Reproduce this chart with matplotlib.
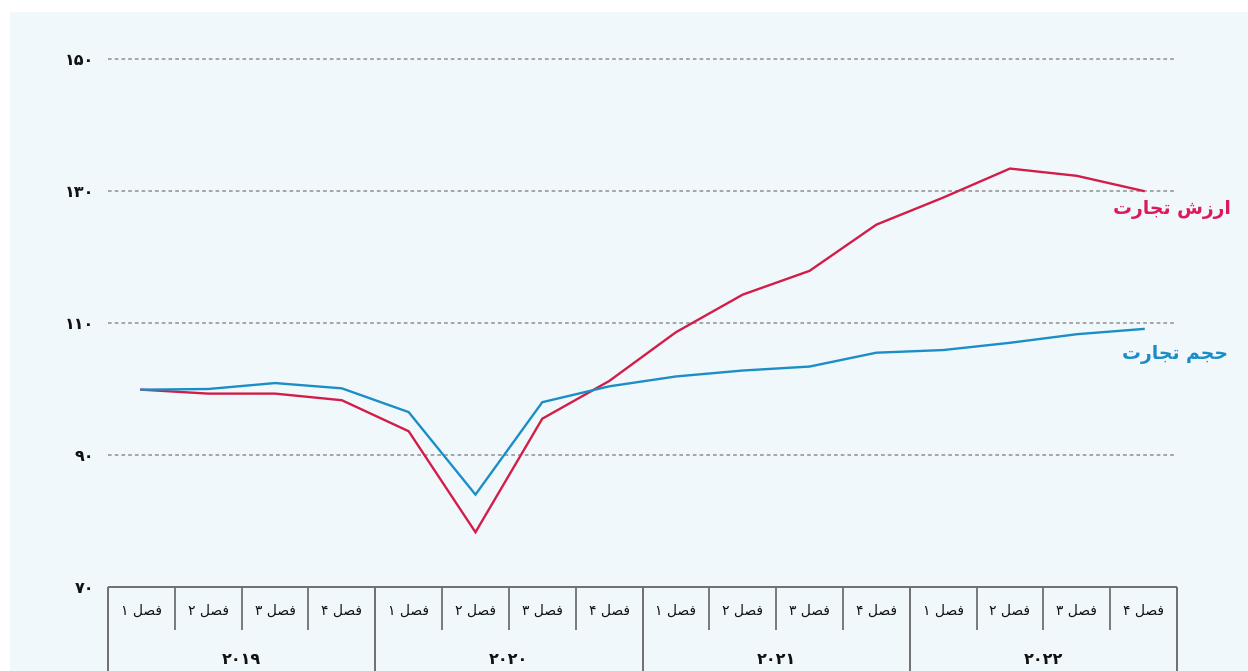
import matplotlib
matplotlib.use("Agg")
import matplotlib.pyplot as plt
from matplotlib.patches import Rectangle

# ---------------- data ----------------
years = ["2019", "2020", "2021", "2022"]
quarters = ["فصل 1", "فصل 2", "فصل 3", "فصل 4"]
trade_value = [99.9, 99.3, 99.3, 98.3, 93.6, 78.3, 95.5, 101.2,
               108.6, 114.3, 117.9, 124.9, 129.0, 133.4, 132.3, 130.0]
trade_volume = [99.9, 100.0, 100.9, 100.1, 96.5, 84.0, 98.0, 100.4,
                101.9, 102.8, 103.4, 105.5, 105.9, 107.0, 108.3, 109.1]
y_ticks = [70, 90, 110, 130, 150]
label_value = "ارزش تجارت"
label_volume = "حجم تجارت"

# ---------------- minimal Persian shaping (presentation forms) ----------------
FORMS = {
    'ا': ('\uFE8D', '\uFE8E', None, None),
    'ر': ('\uFEAD', '\uFEAE', None, None),
    'ز': ('\uFEAF', '\uFEB0', None, None),
    'ش': ('\uFEB5', '\uFEB6', '\uFEB7', '\uFEB8'),
    'ت': ('\uFE95', '\uFE96', '\uFE97', '\uFE98'),
    'ج': ('\uFE9D', '\uFE9E', '\uFE9F', '\uFEA0'),
    'ح': ('\uFEA1', '\uFEA2', '\uFEA3', '\uFEA4'),
    'م': ('\uFEE1', '\uFEE2', '\uFEE3', '\uFEE4'),
    'ف': ('\uFED1', '\uFED2', '\uFED3', '\uFED4'),
    'ص': ('\uFEB9', '\uFEBA', '\uFEBB', '\uFEBC'),
    'ل': ('\uFEDD', '\uFEDE', '\uFEDF', '\uFEE0'),
}
FA_DIGITS = str.maketrans("0123456789", "۰۱۲۳۴۵۶۷۸۹")


def shape_word(w):
    out = []
    for i, c in enumerate(w):
        if c not in FORMS:
            out.append(c)
            continue
        prev = w[i - 1] if i > 0 else None
        nxt = w[i + 1] if i + 1 < len(w) else None
        jp = prev in FORMS and FORMS[prev][2] is not None
        jn = FORMS[c][2] is not None and nxt in FORMS
        iso, fin, ini, med = FORMS[c]
        out.append(med if (jp and jn) else fin if jp else ini if jn else iso)
    return ''.join(out)


def rtl(s):
    s = s.translate(FA_DIGITS)
    res = []
    for t in reversed(s.split(' ')):
        if any(c in FORMS for c in t):
            res.append(shape_word(t)[::-1])
        else:
            res.append(t)
    return ' '.join(res)


# ---------------- figure ----------------
W, H = 1248, 671
fig = plt.figure(figsize=(W / 100, H / 100), dpi=100, facecolor="white")
plt.rcParams['font.family'] = ['DejaVu Sans']

bg = "#f1f8fc"
bgrect = Rectangle((10 / W, 0), 1 - 10 / W, (H - 12) / H,
                   transform=fig.transFigure, facecolor=bg,
                   edgecolor="none", zorder=-10)
fig.add_artist(bgrect)

ax = fig.add_axes([108 / W, (H - 587) / H, (1177 - 108) / W, (587 - 59) / H])
ax.set_zorder(1)
ax.set_facecolor("none")
for s in ax.spines.values():
    s.set_visible(False)

n = len(trade_value)
x = list(range(n))
ax.set_xlim(-0.5, n - 0.5)
ax.set_ylim(70, 150)

# grid lines
for v in y_ticks[1:]:
    ax.plot([-0.5, n - 0.55], [v, v], color="#8f8f8f", lw=1.1,
            linestyle=(0, (2.4, 2.0)), zorder=1, clip_on=False)

ax.plot(x, trade_value, color="#d21d48", lw=1.7, zorder=3, clip_on=False,
        solid_joinstyle="miter")
ax.plot(x, trade_volume, color="#1b8ec6", lw=1.7, zorder=3, clip_on=False,
        solid_joinstyle="miter")

ax.set_xticks([])
ax.set_yticks(y_ticks)
ax.set_yticklabels([str(v).translate(FA_DIGITS) for v in y_ticks],
                   fontsize=11.5, fontweight="bold", color="#111111")
ax.tick_params(axis="y", length=0, pad=10)

# series labels
ax.text(16.3, 127.2, rtl(label_value), color="#dc1a5a", fontsize=13.5,
        fontweight="bold", ha="right", va="center", clip_on=False)
ax.text(16.27, 105.2, rtl(label_volume), color="#1a8cc6", fontsize=13.5,
        fontweight="bold", ha="right", va="center", clip_on=False)

# ---------------- category table below ----------------
ppu = (587 - 59) / 80.0          # pixels per y unit
row1_bottom = 70 - 43 / ppu
bottom = 70 - 90 / ppu
tcol = "#6f6f6f"
ax.plot([-0.5, n - 0.5], [70, 70], color=tcol, lw=1.4, clip_on=False,
        solid_capstyle="butt")
for k in range(n + 1):
    xb = k - 0.5
    full = (k % 4 == 0)
    ax.plot([xb, xb], [70, bottom if full else row1_bottom], color=tcol,
            lw=1.4 if full else 1.3, clip_on=False, solid_capstyle="butt")

for i in range(n):
    ax.text(i, 70 - 24 / ppu, rtl(quarters[i % 4]), fontsize=10,
            ha="center", va="center", color="#111111", clip_on=False)
for j, yr in enumerate(years):
    ax.text(4 * j + 1.5, 70 - 73 / ppu, rtl(yr), fontsize=11.5,
            fontweight="bold", ha="center", va="center", color="#111111",
            clip_on=False)

fig.savefig("out.png", dpi=100, facecolor=fig.get_facecolor())
